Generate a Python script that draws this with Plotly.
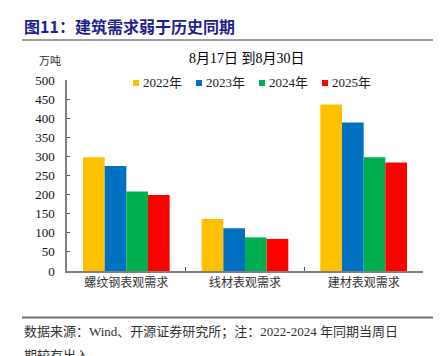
import plotly.graph_objects as go

categories = ["螺纹钢表观需求", "线材表观需求", "建材表观需求"]
series_names = ["2022年", "2023年", "2024年", "2025年"]
v2022 = [298, 136, 436]
v2023 = [275, 112, 389]
v2024 = [208, 88, 298]
v2025 = [199, 84, 284]
colors = ["#FFC000", "#0070C0", "#00B050", "#FF0000"]
yticks = list(range(0, 501, 50))

W, H = 448, 356
L, R, T, B = 67, 423, 80, 271


def px(x):
    return x / W


def py(y):
    return 1 - y / H


fig = go.Figure()
for name, vals, c in zip(series_names, [v2022, v2023, v2024, v2025], colors):
    fig.add_trace(go.Bar(x=categories, y=vals, name=name, marker=dict(color=c, line=dict(width=0))))

serif = "Liberation Serif, Noto Sans CJK SC"
fig.update_layout(
    width=W, height=H,
    margin=dict(l=0, r=0, t=0, b=0, pad=0, autoexpand=False),
    paper_bgcolor="white", plot_bgcolor="white",
    barmode="group", bargap=0.27, bargroupgap=0,
    font=dict(family=serif, size=12, color="#000"),
    showlegend=False,
    xaxis=dict(domain=[px(L), px(R)], showline=True, linecolor="#808080", linewidth=1.5,
               ticks="inside", tickson="boundaries", ticklen=4, tickcolor="#555",
               tickfont=dict(family="Noto Sans CJK SC", size=12, color="#333"),
               showgrid=False, automargin=False),
    yaxis=dict(domain=[py(B), py(T)], range=[0, 500], tickvals=yticks, showline=True,
               linecolor="#808080", linewidth=1.5, ticks="inside", ticklen=3, tickcolor="#555",
               tickfont=dict(family=serif, size=13, color="#111"),
               showgrid=False, zeroline=False, ticklabelstandoff=8, automargin=False),
)

# custom legend
leg_x0 = 133
leg_step = 63
for i, (name, c) in enumerate(zip(series_names, colors)):
    x0 = leg_x0 + i * leg_step
    fig.add_shape(type="rect", xref="paper", yref="paper",
                  x0=px(x0), x1=px(x0 + 6), y0=py(86), y1=py(80),
                  fillcolor=c, line=dict(width=0))
    fig.add_annotation(text=name, xref="paper", yref="paper",
                       x=px(x0 + 8), xanchor="left", y=py(83), yanchor="middle",
                       showarrow=False, font=dict(family=serif, size=13, color="#222"))

fig.add_annotation(text="<b>图11：建筑需求弱于历史同期</b>", xref="paper", yref="paper",
                   x=px(22), xanchor="left", y=py(26), yanchor="middle",
                   showarrow=False, font=dict(family="Noto Sans CJK SC", size=16, color="#1F1F8C"))
fig.add_annotation(text="8月17日 到8月30日", xref="paper", yref="paper",
                   x=px(247), xanchor="center", y=py(58), yanchor="middle",
                   showarrow=False, font=dict(family=serif, size=14, color="#000"))
fig.add_annotation(text="万吨", xref="paper", yref="paper",
                   x=px(50), xanchor="center", y=py(60), yanchor="middle",
                   showarrow=False, font=dict(family="Noto Sans CJK SC", size=11, color="#333"))
fig.add_annotation(text="数据来源：Wind、开源证券研究所；注：2022-2024 年同期当周日",
                   xref="paper", yref="paper", align="left",
                   x=px(22), xanchor="left", y=py(332), yanchor="middle",
                   showarrow=False, font=dict(family=serif, size=13, color="#333"))
fig.add_annotation(text="期较有出入",
                   xref="paper", yref="paper", align="left",
                   x=px(22), xanchor="left", y=py(355), yanchor="middle",
                   showarrow=False, font=dict(family=serif, size=13, color="#333"))

# rule lines
fig.add_shape(type="line", xref="paper", yref="paper",
              x0=px(22), x1=px(433), y0=py(40), y1=py(40),
              line=dict(color="#7F7F7F", width=1.5))
fig.add_shape(type="line", xref="paper", yref="paper",
              x0=px(22), x1=px(433), y0=py(317.5), y1=py(317.5),
              line=dict(color="#6F6F6F", width=2))

fig.write_html("out.html", config={"displayModeBar": False},
               post_script="document.body.style.margin='0px';document.body.style.overflow='hidden';")
